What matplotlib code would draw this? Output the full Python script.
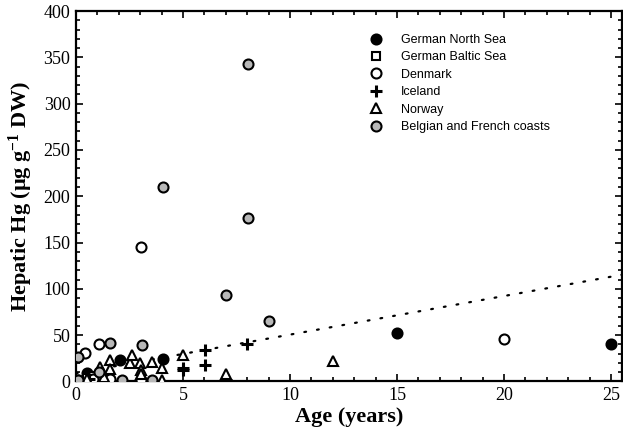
import numpy as np
import matplotlib
matplotlib.use("Agg")
import matplotlib.pyplot as plt
from matplotlib.ticker import MultipleLocator

plt.rcParams['font.family'] = 'Liberation Serif'
plt.rcParams['mathtext.fontset'] = 'custom'
plt.rcParams['mathtext.rm'] = 'Liberation Serif:bold'
plt.rcParams['mathtext.default'] = 'rm'

# values (age in years, Hg in ug/g DW)
north_sea_age = [0.1, 0.5, 2.06, 4.05, 15.0, 25.0]
north_sea_hg = [1.6, 8.9, 23.0, 24.5, 52.7, 40.2]

baltic_age = [0.5, 0.8, 1.2]
baltic_hg = [4.0, 6.0, 3.0]

denmark_age = [0.42, 1.07, 3.04, 0.81, 1.59, 3.02, 20.0]
denmark_hg = [31.0, 40.5, 145.0, 2.4, 2.4, 1.6, 45.9]

iceland_age = [5.0, 5.0, 6.05, 6.05, 7.0, 8.0, 0.6]
iceland_hg = [12.4, 15.0, 34.0, 17.8, 2.0, 40.3, 3.0]

norway_age = [1.1, 1.59, 1.6, 2.52, 2.6, 2.99, 3.02, 3.02, 3.54, 4.0, 4.0, 5.0, 7.0, 12.0, 1.3, 0.5]
norway_hg = [16.0, 23.2, 13.0, 19.6, 28.6, 19.6, 12.4, 8.0, 21.4, 14.3, 1.6, 28.6, 7.5, 22.1, 5.0, 3.0]

belgian_age = [0.1, 0.1, 1.07, 1.59, 2.13, 3.07, 3.54, 4.05, 7.01, 8.02, 8.02, 9.02]
belgian_hg = [26.0, 1.6, 10.6, 41.2, 1.6, 39.4, 1.6, 209.5, 93.4, 176.9, 342.5, 65.7]

# regression line (dotted)
fit_slope = 4.17
fit_intercept = 8.85
fit_x = [0.0, 25.5]

fig = plt.figure(figsize=(6.23, 4.43), dpi=100)
ax = fig.add_axes([0.122, 0.139, 0.876, 0.836])

ax.plot(fit_x, [fit_intercept + fit_slope * x for x in fit_x], linestyle=(0, (0.8, 5)),
        color='black', linewidth=1.6, dash_capstyle='round', zorder=1)

mk = dict(linestyle='none', markeredgecolor='black', markeredgewidth=1.5, zorder=3)
ax.plot(north_sea_age, north_sea_hg, 'o', markersize=7.2, markerfacecolor='black',
        label='German North Sea', **mk)
ax.plot(baltic_age, baltic_hg, 's', markersize=6.3, markerfacecolor='white',
        label='German Baltic Sea', **mk)
ax.plot(denmark_age, denmark_hg, 'o', markersize=7.2, markerfacecolor='white',
        label='Denmark', **mk)
ax.plot(iceland_age, iceland_hg, '+', markersize=9, markeredgewidth=2.2,
        linestyle='none', color='black', label='Iceland', zorder=3)
ax.plot(norway_age, norway_hg, '^', markersize=7.2, markerfacecolor='white',
        label='Norway', **mk)
ax.plot(belgian_age, belgian_hg, 'o', markersize=7.2, markerfacecolor='#b8b8b8',
        label='Belgian and French coasts', **mk)

ax.set_xlim(0, 25.5)
ax.set_ylim(0, 400)
ax.xaxis.set_major_locator(MultipleLocator(5))
ax.xaxis.set_minor_locator(MultipleLocator(1))
ax.yaxis.set_major_locator(MultipleLocator(50))
ax.yaxis.set_minor_locator(MultipleLocator(10))
ax.tick_params(which='both', direction='in', top=True, right=True, labelsize=13, width=1.2)
ax.tick_params(which='major', length=5, pad=4)
ax.tick_params(which='minor', length=3)
for s in ax.spines.values():
    s.set_linewidth(1.6)

ax.set_xlabel('Age (years)', fontsize=16, fontweight='bold', labelpad=2)
ax.set_ylabel('Hepatic Hg (\u00b5g g$^{-1}$ DW)', fontsize=16, fontweight='bold', labelpad=6)

leg = ax.legend(loc='upper left', bbox_to_anchor=(0.518, 0.965), frameon=False,
                prop={'family': 'Liberation Sans', 'size': 9}, handlelength=1.2,
                handletextpad=1.35, labelspacing=0.43, borderpad=0.3)

fig.savefig('out.png', dpi=100)
